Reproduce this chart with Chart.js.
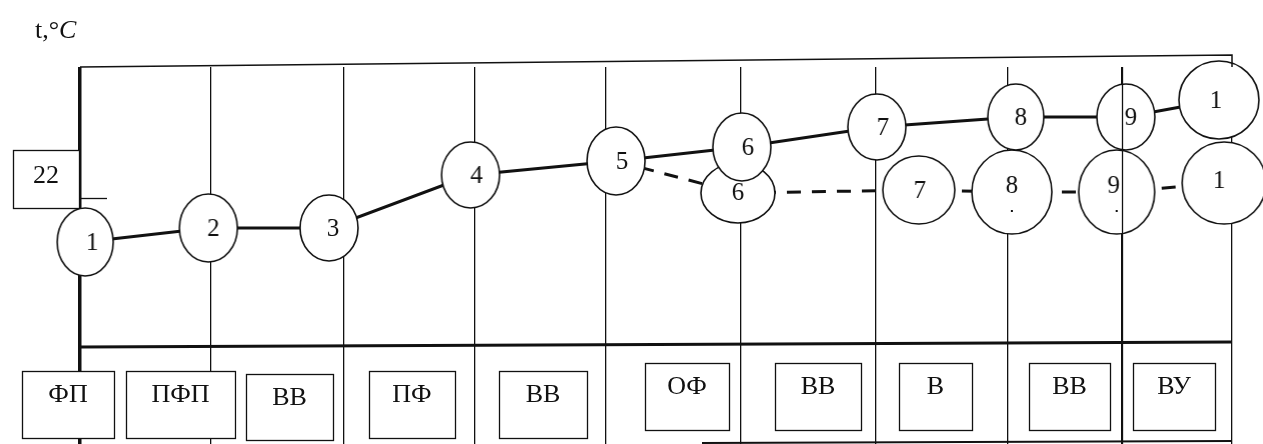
<!DOCTYPE html>
<html>
<head>
<meta charset="utf-8">
<script src="https://cdn.jsdelivr.net/npm/chart.js@4.4.1/dist/chart.umd.min.js"></script>
<style>
html, body { margin: 0; padding: 0; background: #fff; }
#wrap { width: 1263px; height: 444px; }
</style>
</head>
<body>
<div id="wrap"><canvas id="chart" width="1263" height="444"></canvas></div>
<script>
// stage boundaries on the time axis (the vertical lines)
const stageBounds = [0, 1.0, 2.01, 3.01, 4.01, 5.04, 6.07, 7.08, 7.95, 8.79];

// upper curve, solid
const upperX = [0.04, 0.98, 1.90, 2.98, 4.09, 5.05, 6.08, 7.14, 7.98, 8.69];
const upperT = [19.8, 20.5, 20.5, 23.15, 23.85, 24.55, 25.55, 26.05, 26.05, 26.9];
const upperLabels = ['1', '2', '3', '4', '5', '6', '7', '8', '9', '1'];

// lower curve, dashed, branches off at point 5
const lowerX = [4.09, 5.02, 6.40, 7.11, 7.91, 8.73];
const lowerT = [23.85, 22.25, 22.4, 22.3, 22.3, 22.75];
const lowerLabels = ['', '6', '7', '8', '9', '1'];

const stageNames = ['ФП', 'ПФП', 'ВВ', 'ПФ', 'ВВ', 'ОФ', 'ВВ', 'В', 'ВВ', 'ВУ'];
const refTemp = 22;

// ellipse sizes and label nudges (style only)
const upperRx = [28, 29, 29, 29, 29, 29, 29, 28, 29, 40];
const upperRy = [34, 34, 33, 33, 34, 34, 33, 33, 33, 39];
const upperDx = [7, 5, 4, 6, 6, 6, 6, 5, 5, -3];
const lowerRx = [0, 37, 36, 40, 38, 42];
const lowerRy = [0, 30, 34, 42, 42, 41];
const lowerDx = [0, 0, 1, 0, -3, -5];
const lowerDy = [0, -1, 0, -7, -7, -3];
const lowerDot = [false, false, false, true, true, false];

// label boxes under the divider: x, y, w, h
const boxRects = [
    [22, 371, 92, 67], [126, 371, 109, 67], [246, 374, 87, 66], [369, 371, 86, 67], [499, 371, 88, 67],
    [645, 363, 84, 67], [775, 363, 86, 67], [899, 363, 73, 67], [1029, 363, 81, 67], [1133, 363, 82, 67]
];

const serif = '"Liberation Serif", "Times New Roman", serif';

function makeEllipse(label, rx, ry, dx, dy, dot){
    const c = document.createElement('canvas');
    c.width = rx * 2 + 4;
    c.height = ry * 2 + 4;
    const g = c.getContext('2d');
    g.beginPath();
    g.ellipse(c.width / 2, c.height / 2, rx, ry, 0, 0, Math.PI * 2);
    g.fillStyle = '#fff';
    g.fill();
    g.lineWidth = 1.6;
    g.strokeStyle = '#111';
    g.stroke();
    g.fillStyle = '#111';
    g.font = '25px ' + serif;
    g.textAlign = 'center';
    g.textBaseline = 'middle';
    g.fillText(label, c.width / 2 + dx, c.height / 2 + dy + 1);
    if (dot){
        g.fillRect(c.width / 2 - 1, c.height / 2 + 18, 2, 2);
    }
    return c;
}

const upperImgs = upperLabels.map((l, i) => makeEllipse(l, upperRx[i], upperRy[i], upperDx[i], 0, false));
const lowerImgs = lowerLabels.map((l, i) => i === 0 ? 'circle' : makeEllipse(l, lowerRx[i], lowerRy[i], lowerDx[i], lowerDy[i], lowerDot[i]));

const decor = {
    id: 'decor',
    afterDatasetsDraw(chart){
        const ctx = chart.ctx;
        const x = chart.scales.x;
        const y = chart.scales.y;
        const left = x.getPixelForValue(0);
        const right = x.getPixelForValue(stageBounds[stageBounds.length - 1]);
        const top = chart.chartArea.top;
        ctx.save();
        ctx.strokeStyle = '#111';

        // vertical line at the 9th boundary runs over the ellipses
        ctx.lineWidth = 1.3;
        const px = Math.round(x.getPixelForValue(stageBounds[8])) + 0.5;
        ctx.beginPath();
        ctx.moveTo(px, top);
        ctx.lineTo(px, chart.chartArea.bottom);
        ctx.stroke();

        // top frame line, slightly sloped as in the drawing
        ctx.lineWidth = 1.5;
        ctx.beginPath();
        ctx.moveTo(left, top);
        ctx.lineTo(right, top - 12);
        ctx.lineTo(right, top);
        ctx.stroke();

        // divider between chart and stage row
        ctx.lineWidth = 3;
        ctx.beginPath();
        ctx.moveTo(left, 347);
        ctx.lineTo(right, 342);
        ctx.stroke();

        ctx.lineWidth = 2;
        ctx.beginPath();
        ctx.moveTo(702, 443);
        ctx.lineTo(right, 441);
        ctx.stroke();

        // reference temperature mark and box
        const py = Math.round(y.getPixelForValue(refTemp)) + 0.5;
        ctx.lineWidth = 1.3;
        ctx.beginPath();
        ctx.moveTo(left, py);
        ctx.lineTo(left + 27, py);
        ctx.stroke();
        ctx.fillStyle = '#fff';
        ctx.fillRect(13, py - 48, left - 14, 58);
        ctx.strokeRect(13.5, py - 48, left - 14, 58);
        ctx.fillStyle = '#111';
        ctx.font = '26px ' + serif;
        ctx.textAlign = 'center';
        ctx.textBaseline = 'middle';
        ctx.fillText(String(refTemp), 46, py - 22);

        // stage boxes
        ctx.lineWidth = 1.3;
        ctx.font = '26px ' + serif;
        boxRects.forEach((r, i) => {
            ctx.fillStyle = '#fff';
            ctx.fillRect(r[0], r[1], r[2], r[3]);
            ctx.strokeRect(r[0] + 0.5, r[1] + 0.5, r[2], r[3]);
            ctx.fillStyle = '#111';
            ctx.fillText(stageNames[i], r[0] + r[2] / 2, r[1] + 24);
        });

        // axis title
        ctx.textAlign = 'left';
        ctx.textBaseline = 'alphabetic';
        ctx.font = '26px ' + serif;
        ctx.fillText('t,°', 35, 38);
        const w = ctx.measureText('t,°').width;
        ctx.font = 'italic 26px ' + serif;
        ctx.fillText('C', 35 + w, 38);
        ctx.restore();
    }
};

new Chart(document.getElementById('chart'), {
    type: 'line',
    data: {
        datasets: [{
            data: upperX.map((v, i) => ({ x: v, y: upperT[i] })),
            borderColor: '#111',
            borderWidth: 3,
            pointStyle: upperImgs,
            pointRadius: 30,
            tension: 0,
            clip: false
        }, {
            data: lowerX.map((v, i) => ({ x: v, y: lowerT[i] })),
            borderColor: '#111',
            borderWidth: 3,
            borderDash: [14, 11],
            pointStyle: lowerImgs,
            pointRadius: lowerLabels.map(l => l === '' ? 0 : 30),
            tension: 0,
            clip: false
        }]
    },
    options: {
        responsive: false,
        animation: false,
        events: [],
        layout: { autoPadding: false, padding: { left: 80, right: 31, top: 67, bottom: 0 } },
        plugins: {
            legend: { display: false },
            tooltip: { enabled: false }
        },
        scales: {
            x: {
                type: 'linear',
                min: 0,
                max: stageBounds[stageBounds.length - 1],
                afterBuildTicks: s => { s.ticks = stageBounds.map(v => ({ value: v })); },
                afterFit: s => { s.height = 0; },
                grid: {
                    color: '#111',
                    lineWidth: c => c.index === 0 ? 3.5 : 1.3,
                    drawTicks: false
                },
                border: { display: false },
                ticks: { display: false }
            },
            y: {
                min: 9.7,
                max: 28.55,
                display: false
            }
        }
    },
    plugins: [decor]
});
</script>
</body>
</html>
